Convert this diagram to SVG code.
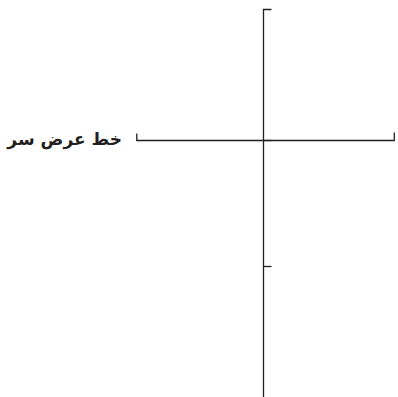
<svg xmlns="http://www.w3.org/2000/svg" width="398" height="397" viewBox="0 0 398 397">
<style>
.ln{stroke:#231f20;stroke-width:1.3;fill:none}
.lbl{font-family:"DejaVu Sans",sans-serif;font-weight:bold;font-size:17px;fill:#231f20}
</style>
<rect width="398" height="397" fill="#fff"/>
<g id="connectors">
<path class="ln" d="M271.5,9.5 H263.5 V397"/>
<path class="ln" d="M136.8,133.5 V140.5 H394.3 V132.5"/>
<path class="ln" d="M263.5,140.5 H271.5"/>
<path class="ln" d="M263.5,266.5 H271.5"/>
</g>
<g id="label">
<text class="lbl" x="122" y="145" text-anchor="end">خط عرض سر</text>
</g>
</svg>
